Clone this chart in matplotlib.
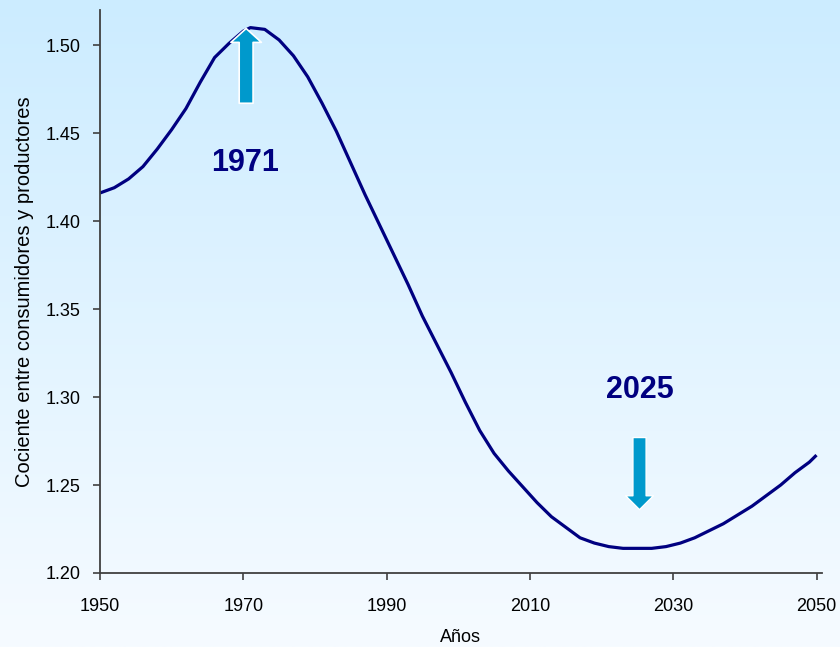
import matplotlib
matplotlib.use("Agg")
import matplotlib.pyplot as plt
import numpy as np

plt.rcParams['font.family'] = ['Liberation Sans', 'DejaVu Sans']

# cociente consumidores / productores
years = [1950, 1952, 1954, 1956, 1958, 1960, 1962, 1964, 1966, 1968, 1970, 1971,
         1973, 1975, 1977, 1979, 1981, 1983, 1985, 1987, 1989, 1991, 1993, 1995,
         1997, 1999, 2001, 2003, 2005, 2007, 2009, 2011, 2013, 2015, 2017, 2019,
         2021, 2023, 2025, 2027, 2029, 2031, 2033, 2035, 2037, 2039, 2041, 2043,
         2045, 2047, 2049, 2050]
ratio = [1.416, 1.419, 1.424, 1.431, 1.441, 1.452, 1.464, 1.479, 1.493, 1.501, 1.508, 1.510,
         1.509, 1.503, 1.494, 1.482, 1.467, 1.451, 1.433, 1.415, 1.398, 1.381, 1.364, 1.346,
         1.330, 1.314, 1.297, 1.281, 1.268, 1.258, 1.249, 1.240, 1.232, 1.226, 1.220, 1.217,
         1.215, 1.214, 1.214, 1.214, 1.215, 1.217, 1.220, 1.224, 1.228, 1.233, 1.238, 1.244,
         1.250, 1.257, 1.263, 1.267]

xticks = [1950, 1970, 1990, 2010, 2030, 2050]
yticks = [1.20, 1.25, 1.30, 1.35, 1.40, 1.45, 1.50]

peak_year, peak_val = 1971, 1.510
min_year, min_val = 2025, 1.214

navy = "#000080"
arrow_col = "#0099CC"

fig = plt.figure(figsize=(8.4, 6.47), dpi=100)

# fondo degradado
bg = fig.add_axes([0, 0, 1, 1], zorder=0)
top = np.array([204, 236, 255]) / 255.0
bot = np.array([246, 251, 255]) / 255.0
t = np.linspace(0, 1, 256)[:, None, None]
grad = top * (1 - t) + bot * t
grad = np.repeat(grad, 2, axis=1)
bg.imshow(grad, aspect='auto', extent=[0, 1, 0, 1])
bg.axis('off')

ax = fig.add_axes([0.119, 0.1144, 0.859, 0.8701], zorder=1)
ax.set_facecolor("none")

ax.plot(years, ratio, color=navy, lw=2.3, solid_capstyle='butt', solid_joinstyle='round')

ax.set_xlim(1950, 2050.7)
ax.set_ylim(1.20, 1.52)
ax.set_xticks(xticks)
ax.set_yticks(yticks)
ax.set_yticklabels([f"{v:.2f}" for v in yticks])

for s in ['top', 'right']:
    ax.spines[s].set_visible(False)
for s in ['left', 'bottom']:
    ax.spines[s].set_color("#404040")
    ax.spines[s].set_linewidth(1.3)
ax.tick_params(axis='both', direction='out', length=5, width=1.2,
               color="#404040", labelsize=13, labelcolor="black")
ax.tick_params(axis='x', pad=13)
ax.tick_params(axis='y', pad=9)

ax.set_xlabel("Años", fontsize=13, labelpad=10)
ax.set_ylabel("Cociente entre consumidores y productores", fontsize=14.5, labelpad=8)

# flechas
ax.annotate("", xy=(peak_year - 0.6, peak_val - 0.0005), xytext=(peak_year - 0.6, 1.467),
            arrowprops=dict(arrowstyle="simple,head_length=1.0,head_width=2.2,tail_width=1.0",
                            fc=arrow_col, ec="white", lw=1.2, shrinkA=0, shrinkB=0),
            zorder=4)
ax.annotate("", xy=(min_year + 0.3, 1.236), xytext=(min_year + 0.3, 1.277),
            arrowprops=dict(arrowstyle="simple,head_length=1.0,head_width=2.0,tail_width=0.95",
                            fc=arrow_col, ec="white", lw=1.0, shrinkA=0, shrinkB=0),
            zorder=4)

ax.text(peak_year - 0.7, 1.433, str(peak_year), color=navy, fontsize=22,
        fontweight='bold', ha='center', va='center')
ax.text(min_year + 0.4, 1.304, str(min_year), color=navy, fontsize=22,
        fontweight='bold', ha='center', va='center')

fig.savefig("out.png", dpi=100)
